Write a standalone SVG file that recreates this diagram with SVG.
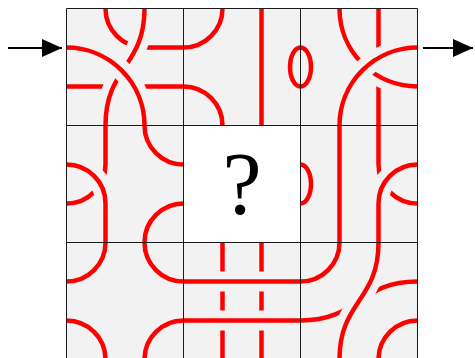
<svg xmlns="http://www.w3.org/2000/svg" width="475" height="358" viewBox="0 0 475 358">
<style>
.bg{fill:#f2f2f2}
.k{fill:none;stroke:#ff0000;stroke-width:4.5}
.h{fill:none;stroke:#f2f2f2;stroke-width:20}
.grid{fill:none;stroke:#1a1a1a;stroke-width:1}
.arr{stroke:#000;stroke-width:2}
.q{font-family:"Liberation Serif","DejaVu Serif",serif;font-size:88px;fill:#000}
</style>
<defs>
<marker id="ah" markerUnits="userSpaceOnUse" markerWidth="20" markerHeight="18" refX="20" refY="9" orient="auto" viewBox="0 0 20 18"><path d="M0,0 L20,9 L0,18 z" fill="#000"/></marker>
</defs>
<rect x="0" y="0" width="475" height="358" fill="#fff"/>

<g id="cell-0-0" transform="translate(66.5,8.5)">
<rect class="bg" width="117" height="117"/>
<path class="k" d="M0,78H117"/>
<path class="k" d="M39,0A39,39 0 0 0 78,39H117"/>
<path class="h" d="M78,0C78,58.5 39,58.5 39,117"/>
<path class="k" d="M78,0C78,58.5 39,58.5 39,117"/>
<path class="h" d="M0,39A78,78 0 0 1 78,117"/>
<path class="k" d="M0,39A78,78 0 0 1 78,117"/>
</g>

<g id="cell-1-0" transform="translate(183.5,8.5)">
<rect class="bg" width="117" height="117"/>
<path class="k" d="M39,0A39,39 0 0 1 0,39"/>
<path class="k" d="M0,78A39,39 0 0 1 39,117"/>
<path class="k" d="M78,0V117"/>
<path class="k" d="M117,39A10.5,19.5 0 0 0 117,78"/>
</g>

<g id="cell-2-0" transform="translate(300.5,8.5)">
<rect class="bg" width="117" height="117"/>
<path class="k" d="M0,39A10.5,19.5 0 0 1 0,78"/>
<path class="k" d="M78,0V117"/>
<path class="h" d="M39,0A78,78 0 0 0 117,78"/>
<path class="k" d="M39,0A78,78 0 0 0 117,78"/>
<path class="h" d="M117,39A78,78 0 0 0 39,117"/>
<path class="k" d="M117,39A78,78 0 0 0 39,117"/>
</g>

<g id="cell-0-1" transform="translate(66.5,125.5)">
<rect class="bg" width="117" height="117"/>
<path class="k" d="M39,0V39A39,39 0 0 1 0,78"/>
<path class="h" d="M0,39A39,39 0 0 1 39,78V117"/>
<path class="k" d="M0,39A39,39 0 0 1 39,78V117"/>
<path class="k" d="M78,0A39,39 0 0 0 117,39"/>
<path class="k" d="M117,78A39,39 0 0 0 78,117"/>
</g>

<g id="cell-1-1" transform="translate(183.5,125.5)">
<rect width="117" height="117" fill="#fff"/>
<text class="q" x="58.5" y="87.5" text-anchor="middle">?</text>
</g>

<g id="cell-2-1" transform="translate(300.5,125.5)">
<rect class="bg" width="117" height="117"/>
<path class="k" d="M0,39A10.5,19.5 0 0 1 0,78"/>
<path class="k" d="M39,0V117"/>
<path class="k" d="M78,0V39A39,39 0 0 0 117,78"/>
<path class="h" d="M117,39A39,39 0 0 0 78,78V117"/>
<path class="k" d="M117,39A39,39 0 0 0 78,78V117"/>
</g>

<g id="cell-0-2" transform="translate(66.5,242.5)">
<rect class="bg" width="117" height="117"/>
<path class="k" d="M39,0A39,39 0 0 1 0,39"/>
<path class="k" d="M78,0A39,39 0 0 0 117,39"/>
<path class="k" d="M0,78A39,39 0 0 1 39,117"/>
<path class="k" d="M117,78A39,39 0 0 0 78,117"/>
</g>

<g id="cell-1-2" transform="translate(183.5,242.5)">
<rect class="bg" width="117" height="117"/>
<path class="k" d="M39,0V117"/>
<path class="k" d="M78,0V117"/>
<path class="h" d="M0,39H117"/>
<path class="k" d="M0,39H117"/>
<path class="h" d="M0,78H117"/>
<path class="k" d="M0,78H117"/>
</g>

<g id="cell-2-2" transform="translate(300.5,242.5)">
<rect class="bg" width="117" height="117"/>
<path class="k" d="M39,0A39,39 0 0 1 0,39"/>
<path class="k" d="M0,78C58.5,78 58.5,39 117,39"/>
<path class="h" d="M78,0C78,58.5 39,58.5 39,117"/>
<path class="k" d="M78,0C78,58.5 39,58.5 39,117"/>
<path class="k" d="M117,78A39,39 0 0 0 78,117"/>
</g>

<g id="grid">
<path class="grid" d="M66.5,8.5V359.5M183.5,8.5V359.5M300.5,8.5V359.5M417.5,8.5V359.5M66.5,8.5H417.5M66.5,125.5H417.5M66.5,242.5H417.5M66.5,359.5H417.5"/>
</g>

<g id="connectors">
<line class="arr" x1="8" y1="48" x2="62" y2="48" marker-end="url(#ah)"/>
<line class="arr" x1="423" y1="48" x2="473" y2="48" marker-end="url(#ah)"/>
</g>
</svg>
